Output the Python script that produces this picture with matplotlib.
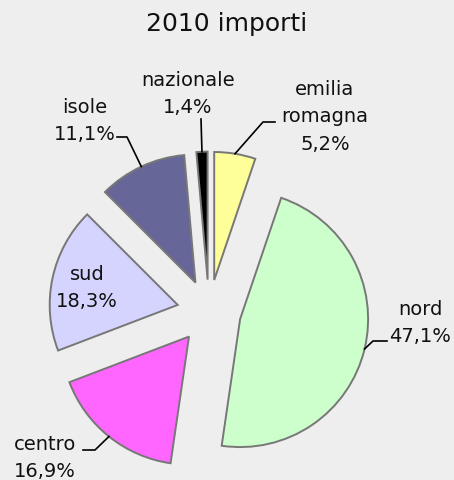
import numpy as np
import matplotlib.pyplot as plt

regions = ["emilia\nromagna", "nord", "centro", "sud", "isole", "nazionale"]
shares = [5.2, 47.1, 16.9, 18.3, 11.1, 1.4]
colors = ["#FFFF99", "#CCFFCC", "#FF66FF", "#D4D4FF", "#666699", "#000000"]
title = "2010 importi"

W, H, DPI = 454, 481, 100
CX, CY, R = 209, 312.6, 128  # pie centre / radius in pixels (top origin)


def px(x, y):
    """Pixel position (top origin) -> data coords of the pie axes."""
    return (x - CX) / R, (H - y - (H - CY)) / R


fig = plt.figure(figsize=(W / DPI, H / DPI), dpi=DPI)
fig.patch.set_facecolor("#eeeeee")
ax = fig.add_axes([0, 0, 1, 1])
ax.set_facecolor("#eeeeee")

wedges, _ = ax.pie(shares, colors=colors, startangle=90, counterclock=False,
                   explode=[0.25] * len(shares), radius=1,
                   wedgeprops=dict(edgecolor="#777777", linewidth=1.4))
ax.set_xlim(-CX / R, (W - CX) / R)
ax.set_ylim(-(H - CY) / R, CY / R)
ax.set_aspect("equal")
ax.axis("off")

# label block centres and leader elbows (pixels, top origin)
label_pos = [(325, 117), (420, 323), (45, 458), (87, 288), (85, 121), (188, 94)]
elbows = [[(275, 123), (263, 123)], [(387, 342), (373, 342)],
          [(83, 451), (95, 451)], None, [(117, 138), (127, 138)],
          [(201, 120)]]

for w, name, v, pos, elb in zip(wedges, regions, shares, label_pos, elbows):
    txt = name + "\n" + f"{v:.1f}".replace(".", ",") + "%"
    tx, ty = px(*pos)
    ax.text(tx, ty, txt, ha="center", va="center", fontsize=14,
            linespacing=1.55, color="#111111")
    if elb is None:
        continue
    mid = np.deg2rad((w.theta1 + w.theta2) / 2)
    ex = w.center[0] + w.r * np.cos(mid)
    ey = w.center[1] + w.r * np.sin(mid)
    pts = [px(*p) for p in elb] + [(ex, ey)]
    xs, ys = zip(*pts)
    ax.plot(xs, ys, color="black", linewidth=1.2)

ax.text(*px(227, 24), title, ha="center", va="center", fontsize=18,
        color="#111111")

fig.savefig("out.png", dpi=DPI, facecolor=fig.get_facecolor())
